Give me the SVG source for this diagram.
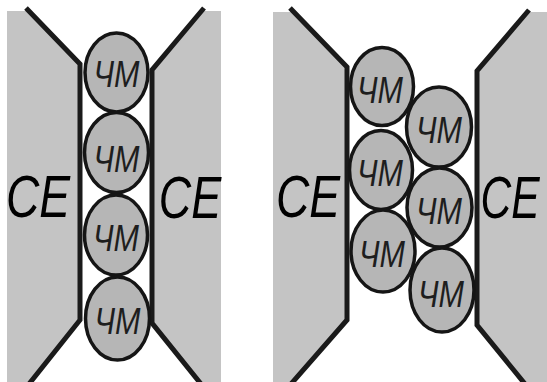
<svg xmlns="http://www.w3.org/2000/svg" width="547" height="382" viewBox="0 0 547 382">
  <style>
    .plate { fill: #c4c4c4; stroke: none; }
    .wall { fill: none; stroke: #1a1a1a; stroke-width: 5; stroke-linejoin: miter; stroke-linecap: butt; }
    .ball { fill: #b6b6b6; stroke: #151515; stroke-width: 3.5; }
    .lbl { font-family: "Liberation Sans", Arial, sans-serif; font-style: italic; fill: #1e1e1e; text-anchor: middle; }
    .ball-t { font-size: 37px; }
    .ce-t { font-size: 60px; fill: #000; }
  </style>

  <rect width="547" height="382" fill="#ffffff"/>

  <!-- Left assembly: electrodes -->
  <g id="left-electrodes">
    <polygon class="plate" points="7,11 28,11 80,65 80,320 30,382 7,382"/>
    <polygon class="plate" points="221,11 201,11 152,71 152,323 200,382 221,382"/>
    <path class="wall" d="M26,8 L80,64 L80,320 L29,384"/>
    <path class="wall" d="M204,8 L152,70 L152,323 L201,384"/>
  </g>

  <!-- Right assembly: electrodes -->
  <g id="right-electrodes">
    <polygon class="plate" points="273,12 292,12 347,68 347,320 292,382 273,382"/>
    <polygon class="plate" points="547,12 529,12 477,72 477,325 524,382 547,382"/>
    <path class="wall" d="M290,8 L347,67 L347,320 L291,384"/>
    <path class="wall" d="M529,10 L477,71 L477,325 L525,384"/>
  </g>

  <!-- Electrode labels (narrowed horizontally) -->
  <g id="ce-labels">
    <text class="lbl ce-t" transform="translate(38,217) scale(0.77,1)">CE</text>
    <text class="lbl ce-t" transform="translate(190,218) scale(0.75,1)">CE</text>
    <text class="lbl ce-t" transform="translate(308,217) scale(0.77,1)">CE</text>
    <text class="lbl ce-t" transform="translate(510,218) scale(0.71,1)">CE</text>
  </g>

  <!-- Left column of particles -->
  <g id="L1"><ellipse class="ball" cx="116.5" cy="72.5" rx="31.5" ry="39.5"/><text class="lbl ball-t" x="116.5" y="87" textLength="46" lengthAdjust="spacingAndGlyphs">ЧМ</text></g>
  <g id="L2"><ellipse class="ball" cx="116.5" cy="152.5" rx="32" ry="40"/><text class="lbl ball-t" x="116.5" y="172" textLength="46" lengthAdjust="spacingAndGlyphs">ЧМ</text></g>
  <g id="L3"><ellipse class="ball" cx="116" cy="235" rx="31.5" ry="40"/><text class="lbl ball-t" x="116" y="251" textLength="46" lengthAdjust="spacingAndGlyphs">ЧМ</text></g>
  <g id="L4"><ellipse class="ball" cx="117.5" cy="318.5" rx="32" ry="41.5"/><text class="lbl ball-t" x="117.5" y="334" textLength="46" lengthAdjust="spacingAndGlyphs">ЧМ</text></g>

  <!-- Right staggered group of particles -->
  <g id="R1"><ellipse class="ball" cx="382" cy="86.5" rx="31.5" ry="39"/><text class="lbl ball-t" x="380" y="103" textLength="46" lengthAdjust="spacingAndGlyphs">ЧМ</text></g>
  <g id="R2"><ellipse class="ball" cx="439" cy="127" rx="32.5" ry="40"/><text class="lbl ball-t" x="439" y="143" textLength="46" lengthAdjust="spacingAndGlyphs">ЧМ</text></g>
  <g id="R3"><ellipse class="ball" cx="381" cy="170" rx="31.5" ry="39.5"/><text class="lbl ball-t" x="380" y="186" textLength="46" lengthAdjust="spacingAndGlyphs">ЧМ</text></g>
  <g id="R4"><ellipse class="ball" cx="439.5" cy="207.5" rx="32.5" ry="39.5"/><text class="lbl ball-t" x="439" y="224" textLength="46" lengthAdjust="spacingAndGlyphs">ЧМ</text></g>
  <g id="R5"><ellipse class="ball" cx="383" cy="251" rx="32" ry="41"/><text class="lbl ball-t" x="382" y="267" textLength="46" lengthAdjust="spacingAndGlyphs">ЧМ</text></g>
  <g id="R6"><ellipse class="ball" cx="442" cy="290" rx="32" ry="42"/><text class="lbl ball-t" x="441" y="307" textLength="46" lengthAdjust="spacingAndGlyphs">ЧМ</text></g>
</svg>
